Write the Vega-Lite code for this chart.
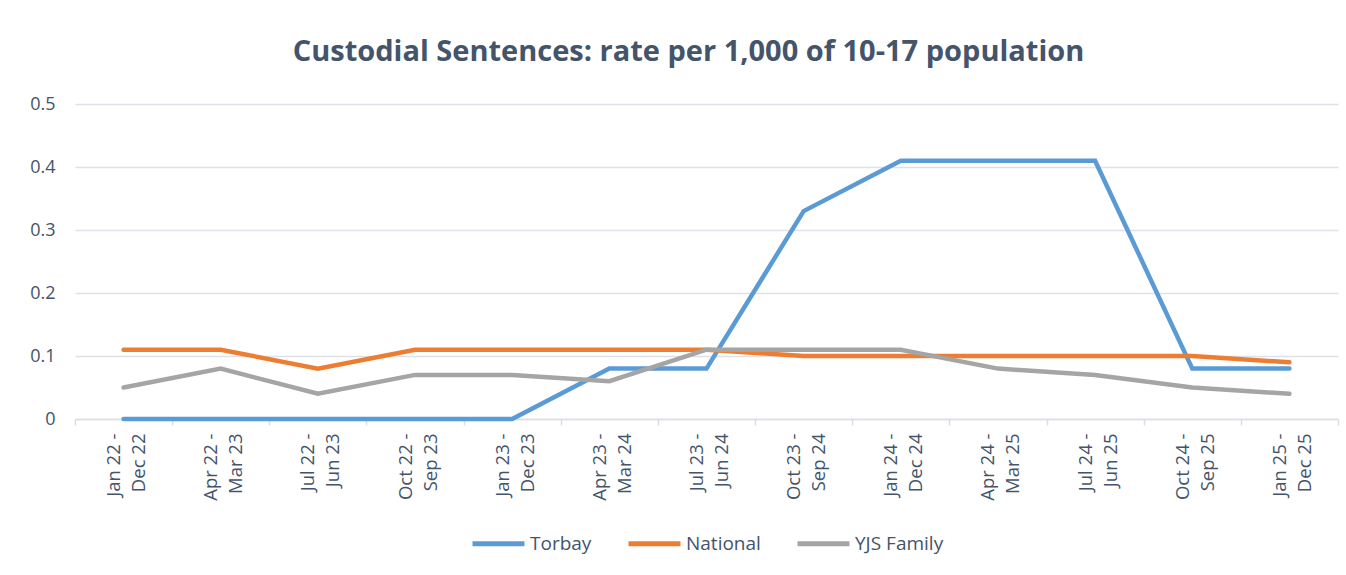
{
  "$schema": "https://vega.github.io/schema/vega-lite/v6.json",
  "width": 1263,
  "height": 315,
  "autosize": {"type": "none"},
  "padding": {"left": 75, "top": 104, "right": 8, "bottom": 156},
  "background": "white",
  "title": {
    "text": "Custodial Sentences: rate per 1,000 of 10-17 population",
    "font": "Open Sans",
    "fontSize": 29,
    "fontWeight": "bold",
    "color": "#44546A",
    "anchor": "middle",
    "frame": "group",
    "dx": -18,
    "offset": 28
  },
  "data": {
    "values": [
      {"period": "Jan 22 - Dec 22", "series": "Torbay", "rate": 0},
      {"period": "Apr 22 - Mar 23", "series": "Torbay", "rate": 0},
      {"period": "Jul 22 - Jun 23", "series": "Torbay", "rate": 0},
      {"period": "Oct 22 - Sep 23", "series": "Torbay", "rate": 0},
      {"period": "Jan 23 - Dec 23", "series": "Torbay", "rate": 0},
      {"period": "Apr 23 - Mar 24", "series": "Torbay", "rate": 0.08},
      {"period": "Jul 23 - Jun 24", "series": "Torbay", "rate": 0.08},
      {"period": "Oct 23 - Sep 24", "series": "Torbay", "rate": 0.33},
      {"period": "Jan 24 - Dec 24", "series": "Torbay", "rate": 0.41},
      {"period": "Apr 24 - Mar 25", "series": "Torbay", "rate": 0.41},
      {"period": "Jul 24 - Jun 25", "series": "Torbay", "rate": 0.41},
      {"period": "Oct 24 - Sep 25", "series": "Torbay", "rate": 0.08},
      {"period": "Jan 25 - Dec 25", "series": "Torbay", "rate": 0.08},
      {"period": "Jan 22 - Dec 22", "series": "National", "rate": 0.11},
      {"period": "Apr 22 - Mar 23", "series": "National", "rate": 0.11},
      {"period": "Jul 22 - Jun 23", "series": "National", "rate": 0.08},
      {"period": "Oct 22 - Sep 23", "series": "National", "rate": 0.11},
      {"period": "Jan 23 - Dec 23", "series": "National", "rate": 0.11},
      {"period": "Apr 23 - Mar 24", "series": "National", "rate": 0.11},
      {"period": "Jul 23 - Jun 24", "series": "National", "rate": 0.11},
      {"period": "Oct 23 - Sep 24", "series": "National", "rate": 0.1},
      {"period": "Jan 24 - Dec 24", "series": "National", "rate": 0.1},
      {"period": "Apr 24 - Mar 25", "series": "National", "rate": 0.1},
      {"period": "Jul 24 - Jun 25", "series": "National", "rate": 0.1},
      {"period": "Oct 24 - Sep 25", "series": "National", "rate": 0.1},
      {"period": "Jan 25 - Dec 25", "series": "National", "rate": 0.09},
      {"period": "Jan 22 - Dec 22", "series": "YJS Family", "rate": 0.05},
      {"period": "Apr 22 - Mar 23", "series": "YJS Family", "rate": 0.08},
      {"period": "Jul 22 - Jun 23", "series": "YJS Family", "rate": 0.04},
      {"period": "Oct 22 - Sep 23", "series": "YJS Family", "rate": 0.07},
      {"period": "Jan 23 - Dec 23", "series": "YJS Family", "rate": 0.07},
      {"period": "Apr 23 - Mar 24", "series": "YJS Family", "rate": 0.06},
      {"period": "Jul 23 - Jun 24", "series": "YJS Family", "rate": 0.11},
      {"period": "Oct 23 - Sep 24", "series": "YJS Family", "rate": 0.11},
      {"period": "Jan 24 - Dec 24", "series": "YJS Family", "rate": 0.11},
      {"period": "Apr 24 - Mar 25", "series": "YJS Family", "rate": 0.08},
      {"period": "Jul 24 - Jun 25", "series": "YJS Family", "rate": 0.07},
      {"period": "Oct 24 - Sep 25", "series": "YJS Family", "rate": 0.05},
      {"period": "Jan 25 - Dec 25", "series": "YJS Family", "rate": 0.04}
    ]
  },
  "mark": {"type": "line", "strokeWidth": 4.5, "strokeCap": "round"},
  "encoding": {
    "x": {
      "field": "period",
      "type": "nominal",
      "sort": null,
      "scale": {"type": "band", "paddingInner": 0, "paddingOuter": 0},
      "axis": {
        "title": null,
        "labelAngle": -90,
        "labelAlign": "right",
        "labelBaseline": "middle",
        "labelExpr": "isString(datum.value) ? [split(datum.value, ' - ')[0] + ' -', split(datum.value, ' - ')[1]] : ''",
        "labelFont": "Open Sans",
        "labelFontSize": 18.5,
        "labelLineHeight": 25,
        "labelOffset": -10,
        "labelColor": "#44546A",
        "labelPadding": 8,
        "domainColor": "#D9DDE6",
        "domainWidth": 1.5,
        "tickColor": "#D9DDE6",
        "tickWidth": 1.5,
        "tickSize": 6,
        "tickBand": "extent",
        "grid": false
      }
    },
    "y": {
      "field": "rate",
      "type": "quantitative",
      "scale": {"domain": [0, 0.5]},
      "axis": {
        "title": null,
        "values": [0, 0.1, 0.2, 0.3, 0.4, 0.5],
        "format": "~g",
        "domain": false,
        "ticks": false,
        "labelPadding": 20,
        "labelFont": "Open Sans",
        "labelFontSize": 18,
        "labelColor": "#44546A",
        "gridColor": "#DDE1EA",
        "gridWidth": 1.5
      }
    },
    "color": {
      "field": "series",
      "type": "nominal",
      "scale": {"domain": ["Torbay", "National", "YJS Family"], "range": ["#5B9BD5", "#ED7D31", "#A5A5A5"]},
      "legend": {
        "title": null,
        "orient": "bottom",
        "direction": "horizontal",
        "symbolType": "stroke",
        "symbolSize": 2700,
        "symbolStrokeWidth": 5,
        "labelFont": "Open Sans",
        "labelFontSize": 19,
        "labelColor": "#44546A",
        "labelOffset": 3,
        "columnPadding": 26,
        "offset": 14
      }
    }
  },
  "config": {
    "view": {"stroke": null},
    "legend": {"layout": {"bottom": {"anchor": "middle"}}}
  }
}
